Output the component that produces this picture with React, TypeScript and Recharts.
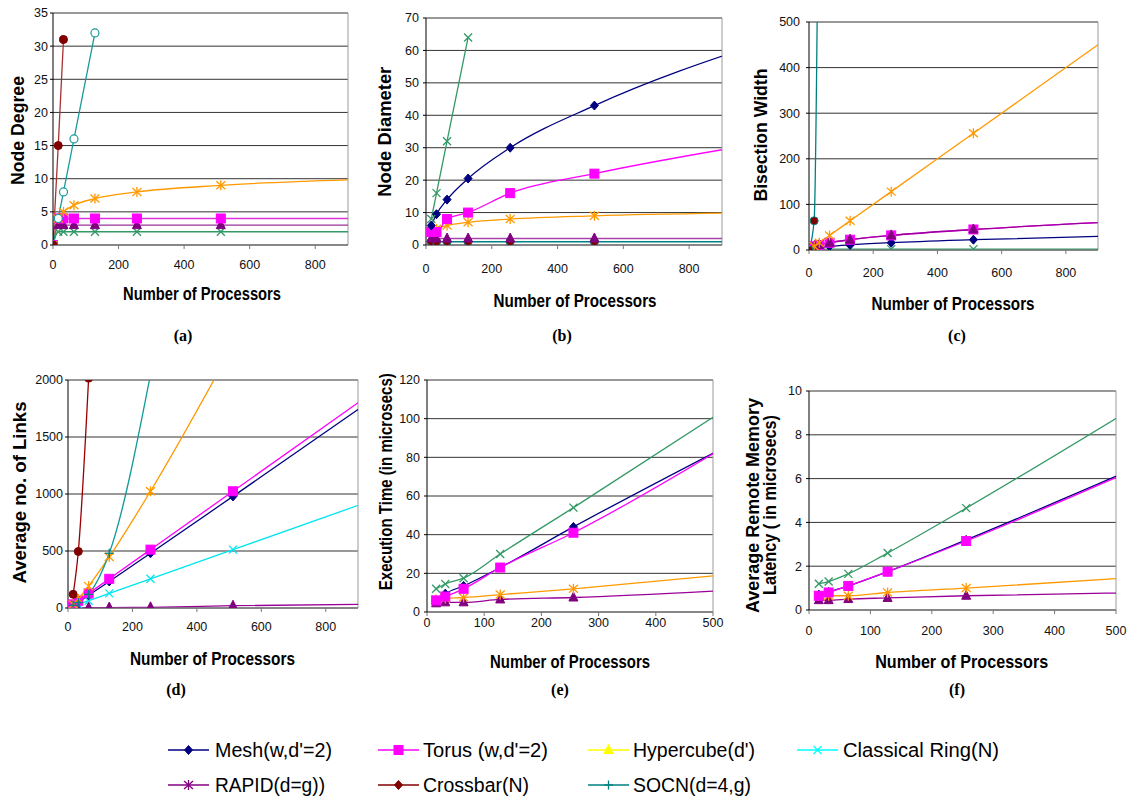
import React from "react";
import { LineChart, Line, XAxis, YAxis, CartesianGrid, ReferenceLine } from "recharts";

const FONT = "'Liberation Sans', Arial, sans-serif";

// processor counts
const procFrom0 = [0, 16, 32, 64, 128, 256, 512, 1024];
const proc = [16, 32, 64, 128, 256, 512, 1024];
const procSim = [16, 32, 64, 128, 256, 512];

// (a) node degree
const degCrossbarX = [0, 16, 32];
const degCrossbar = [0, 15, 31];
const degSocnX = [0, 16, 32, 64, 128];
const degSocn = [0, 4, 8, 16, 32];
const degHypercube = [0, 4, 5, 6, 7, 8, 9, 10];
const degTorus = [0, 4, 4, 4, 4, 4, 4, 4];
const degRapid = [0, 3, 3, 3, 3, 3, 3, 3];
const degRing = [0, 2, 2, 2, 2, 2, 2, 2];

// (b) node diameter
const diaRingX = [16, 32, 64, 128];
const diaRing = [8, 16, 32, 64];
const diaMesh = [6, 9.5, 14, 20.5, 30, 43, 62.5];
const diaTorus = [4, 4, 8, 10, 16, 22, 31.5];
const diaHypercube = [4, 5, 6, 7, 8, 9, 10];
const diaRapid = [2, 2, 2, 2, 2, 2, 2];
const diaCrossbar = [1, 1, 1, 1, 1, 1, 1];

// (c) bisection width
const bisCrossbarX = [0, 16, 32];
const bisCrossbar = [0, 64, 1024];
const bisHypercube = [0, 8, 16, 32, 64, 128, 256, 512];
const bisTorus = [0, 8, 11, 16, 22.6, 32, 45, 64];
const bisMesh = [0, 4, 5.7, 8, 11.3, 16, 22.6, 32];
const bisRing = [0, 2, 2, 2, 2, 2, 2, 2];

// (d) average number of links
const linkCrossbarX = [16, 32, 64];
const linkCrossbar = [120, 496, 2016];
const linkSocnX = [16, 32, 64, 128, 256];
const linkSocn = [24, 48, 120, 480, 2048];
const linkHypercubeX = [16, 32, 64, 128, 256, 512];
const linkHypercube = [32, 80, 192, 448, 1024, 2304];
const linkTorus = [32, 64, 128, 256, 512, 1024, 2048];
const linkMesh = [24, 53, 112, 233, 480, 979, 1984];
const linkRing = [16, 32, 64, 128, 256, 512, 1024];
const linkRapid = [2, 2, 4, 4, 6, 20, 36];

// (e) execution time (microsecs)
const timeSocn = [12, 14.5, 17.5, 30, 54, 103];
const timeMesh = [6, 9.5, 13.5, 23, 44, 84];
const timeTorus = [6, 8, 12, 23, 41, 84];
const timeHypercube = [6.5, 7, 7.5, 9, 12, 19];
const timeRapid = [4.5, 5, 5, 6.5, 7.5, 11];

// (f) average remote memory latency (microsecs)
const latSocn = [1.2, 1.3, 1.65, 2.6, 4.65, 8.95];
const latMesh = [0.7, 0.82, 1.1, 1.75, 3.2, 6.25];
const latTorus = [0.65, 0.8, 1.1, 1.75, 3.15, 6.2];
const latHypercube = [0.65, 0.65, 0.65, 0.8, 1.0, 1.45];
const latRapid = [0.45, 0.45, 0.5, 0.55, 0.65, 0.78];

const ticks900 = [0, 200, 400, 600, 800];
const ticks500 = [0, 100, 200, 300, 400, 500];

const NAVY = "#000080";
const MAGENTA = "#FF00FF";
const ORANGE = "#FF9900";
const PURPLE = "#800080";
const DARKRED = "#800000";
const TEAL = "#008080";
const GREEN = "#339966";
const CYAN = "#00E5F0";

type Shape = "diamond" | "square" | "triangle" | "star" | "cross" | "circle" | "ring" | "plus" | "none";

function Marker({ cx, cy, shape, fill, stroke }: any) {
  if (cx == null || cy == null || isNaN(cx) || isNaN(cy)) return null;
  const st = stroke || fill;
  switch (shape) {
    case "diamond":
      return <polygon points={`${cx},${cy - 4.5} ${cx + 4},${cy} ${cx},${cy + 4.5} ${cx - 4},${cy}`} fill={fill} stroke={st} />;
    case "square":
      return <rect x={cx - 4.5} y={cy - 4.5} width={9} height={9} fill={fill} stroke={st} />;
    case "triangle":
      return <polygon points={`${cx},${cy - 5.5} ${cx + 4.5},${cy + 3.5} ${cx - 4.5},${cy + 3.5}`} fill={fill} stroke={st} />;
    case "star":
      return (
        <g stroke={st} strokeWidth={1.3}>
          <line x1={cx} y1={cy - 5} x2={cx} y2={cy + 5} />
          <line x1={cx - 4.5} y1={cy - 4} x2={cx + 4.5} y2={cy + 4} />
          <line x1={cx - 4.5} y1={cy + 4} x2={cx + 4.5} y2={cy - 4} />
        </g>
      );
    case "cross":
      return (
        <g stroke={st} strokeWidth={1.3}>
          <line x1={cx - 4} y1={cy - 4} x2={cx + 4} y2={cy + 4} />
          <line x1={cx - 4} y1={cy + 4} x2={cx + 4} y2={cy - 4} />
        </g>
      );
    case "plus":
      return (
        <g stroke={st} strokeWidth={1.3}>
          <line x1={cx - 4.5} y1={cy} x2={cx + 4.5} y2={cy} />
          <line x1={cx} y1={cy - 4.5} x2={cx} y2={cy + 4.5} />
        </g>
      );
    case "circle":
      return <circle cx={cx} cy={cy} r={4} fill={fill} stroke={st} />;
    case "ring":
      return <circle cx={cx} cy={cy} r={4} fill="#fff" stroke={st} strokeWidth={1.2} />;
    default:
      return null;
  }
}

interface Series {
  x: number[];
  y: number[];
  stroke: string;
  shape: Shape;
  fill: string;
  mstroke?: string;
}

const s = (x: number[], y: number[], stroke: string, shape: Shape, fill: string, mstroke?: string): Series => ({
  x, y, stroke, shape, fill, mstroke,
});

interface PanelDef {
  left: number; top: number; right: number; bottom: number;
  xMax: number; yMax: number; xTicks: number[]; yTicks: number[];
  xGap: number; yGap: number;
  series: Series[];
}

const panels: PanelDef[] = [
  {
    left: 53, top: 13, right: 348, bottom: 245, xMax: 900, yMax: 35,
    xTicks: ticks900, yTicks: [0, 5, 10, 15, 20, 25, 30, 35], xGap: 15, yGap: 5,
    series: [
      s(procFrom0, degRing, GREEN, "cross", GREEN),
      s(procFrom0, degRapid, "#993399", "triangle", PURPLE),
      s(procFrom0, degTorus, "#DD33DD", "square", MAGENTA),
      s(procFrom0, degHypercube, ORANGE, "star", ORANGE),
      s(degSocnX, degSocn, "#1A9A9A", "ring", "#fff", "#1A9A9A"),
      s(degCrossbarX, degCrossbar, "#A83232", "circle", DARKRED),
    ],
  },
  {
    left: 426, top: 18, right: 722, bottom: 245, xMax: 900, yMax: 70,
    xTicks: ticks900, yTicks: [0, 10, 20, 30, 40, 50, 60, 70], xGap: 19, yGap: 7,
    series: [
      s(proc, diaCrossbar, TEAL, "circle", DARKRED, TEAL),
      s(proc, diaRapid, "#AA44AA", "triangle", PURPLE),
      s(proc, diaHypercube, ORANGE, "star", ORANGE),
      s(proc, diaTorus, MAGENTA, "square", MAGENTA),
      s(proc, diaMesh, NAVY, "diamond", NAVY),
      s(diaRingX, diaRing, GREEN, "cross", GREEN),
    ],
  },
  {
    left: 809, top: 22, right: 1098, bottom: 250, xMax: 900, yMax: 500,
    xTicks: ticks900, yTicks: [0, 100, 200, 300, 400, 500], xGap: 18, yGap: 9,
    series: [
      s(procFrom0, bisRing, GREEN, "cross", GREEN),
      s(procFrom0, bisMesh, NAVY, "diamond", NAVY),
      s(procFrom0, bisTorus, MAGENTA, "square", MAGENTA),
      s(procFrom0, bisTorus, "#990099", "triangle", PURPLE),
      s(procFrom0, bisHypercube, ORANGE, "star", ORANGE),
      s(bisCrossbarX, bisCrossbar, TEAL, "circle", DARKRED, TEAL),
    ],
  },
  {
    left: 68, top: 380, right: 358, bottom: 608, xMax: 900, yMax: 2000,
    xTicks: ticks900, yTicks: [0, 500, 1000, 1500, 2000], xGap: 14, yGap: 5,
    series: [
      s(proc, linkRapid, "#990099", "triangle", PURPLE),
      s(proc, linkRing, CYAN, "cross", CYAN),
      s(proc, linkMesh, NAVY, "diamond", NAVY),
      s(proc, linkTorus, MAGENTA, "square", MAGENTA),
      s(linkHypercubeX, linkHypercube, ORANGE, "star", ORANGE),
      s(linkSocnX, linkSocn, "#119999", "plus", TEAL),
      s(linkCrossbarX, linkCrossbar, "#990000", "circle", DARKRED),
    ],
  },
  {
    left: 427, top: 380, right: 713, bottom: 612, xMax: 500, yMax: 120,
    xTicks: ticks500, yTicks: [0, 20, 40, 60, 80, 100, 120], xGap: 6, yGap: 7,
    series: [
      s(procSim, timeRapid, "#990099", "triangle", PURPLE),
      s(procSim, timeHypercube, ORANGE, "star", ORANGE),
      s(procSim, timeMesh, NAVY, "diamond", NAVY),
      s(procSim, timeTorus, MAGENTA, "square", MAGENTA),
      s(procSim, timeSocn, GREEN, "cross", GREEN),
    ],
  },
  {
    left: 809, top: 391, right: 1116, bottom: 610, xMax: 500, yMax: 10,
    xTicks: ticks500, yTicks: [0, 2, 4, 6, 8, 10], xGap: 16, yGap: 7,
    series: [
      s(procSim, latRapid, "#990099", "triangle", PURPLE),
      s(procSim, latHypercube, ORANGE, "star", ORANGE),
      s(procSim, latMesh, NAVY, "diamond", NAVY),
      s(procSim, latTorus, MAGENTA, "square", MAGENTA),
      s(procSim, latSocn, GREEN, "cross", GREEN),
    ],
  },
];

function Panel({ p }: { p: PanelDef }) {
  const yw = 50;
  const padT = 12;
  const padR = 12;
  const xh = 34;
  const w = p.right - p.left;
  const h = p.bottom - p.top;
  const tick = { fontSize: 12.5, fill: "#111", fontFamily: FONT };
  return (
    <div style={{ position: "absolute", left: p.left - yw, top: p.top - padT }}>
      <LineChart width={w + yw + padR} height={h + padT + xh} margin={{ top: padT, right: padR, bottom: 0, left: 0 }}>
        <CartesianGrid vertical={false} stroke="#333" />
        <XAxis
          type="number"
          dataKey="x"
          domain={[0, p.xMax]}
          ticks={p.xTicks}
          allowDataOverflow
          height={xh}
          tickSize={4}
          tickMargin={p.xGap - 4}
          stroke="#777"
          tick={tick}
        />
        <YAxis
          type="number"
          domain={[0, p.yMax]}
          ticks={p.yTicks}
          allowDataOverflow
          width={yw}
          tickSize={3}
          tickMargin={p.yGap - 3}
          stroke="#000"
          tick={tick}
        />
        <ReferenceLine x={p.xMax} stroke="#9a9a9a" />
        {p.series.map((sr, i) => (
          <Line
            key={i}
            data={sr.x.map((x, j) => ({ x, y: sr.y[j] }))}
            dataKey="y"
            type="monotone"
            stroke={sr.stroke}
            strokeWidth={1.3}
            dot={(d: any) => (
              <Marker key={`m${i}-${d.index}`} cx={d.cx} cy={d.cy} shape={sr.shape} fill={sr.fill} stroke={sr.mstroke} />
            )}
            activeDot={false}
            isAnimationActive={false}
          />
        ))}
      </LineChart>
    </div>
  );
}

const yTitles = [
  { text: "Node Degree", x: 23.5, y: 130.5, len: 109 },
  { text: "Node Diameter", x: 390.5, y: 131.7, len: 130 },
  { text: "Bisection Width", x: 767, y: 135, len: 133 },
  { text: "Average no. of Links", x: 25.5, y: 492.5, len: 182 },
  { text: "Execution Time (in microsecs)", x: 391.5, y: 481.7, len: 217 },
  { text: "Average Remote Memory", x: 759, y: 505.5, len: 215 },
  { text: "Latency ( in microsecs)", x: 776, y: 505, len: 180 },
];

const xTitles = [
  { x: 202, y: 300, len: 158 },
  { x: 575, y: 307, len: 163 },
  { x: 953, y: 310, len: 163 },
  { x: 212.5, y: 665, len: 165 },
  { x: 570, y: 668, len: 160 },
  { x: 961.7, y: 668, len: 173 },
];

const captions = [
  { text: "(a)", x: 183, y: 341 },
  { text: "(b)", x: 562, y: 341 },
  { text: "(c)", x: 957, y: 341 },
  { text: "(d)", x: 176, y: 695 },
  { text: "(e)", x: 560, y: 695 },
  { text: "(f)", x: 957, y: 695 },
];

const legendItems = [
  { name: "Mesh(w,d'=2)", color: NAVY, shape: "diamond" as Shape, ix: 168, tx: 215, row: 0, len: 117 },
  { name: "Torus (w,d'=2)", color: MAGENTA, shape: "square" as Shape, ix: 378, tx: 423, row: 0, len: 125 },
  { name: "Hypercube(d')", color: "#FFFF00", shape: "triangle" as Shape, ix: 588, tx: 633, row: 0, len: 122 },
  { name: "Classical Ring(N)", color: "#00FFFF", shape: "cross" as Shape, ix: 797, tx: 843, row: 0, len: 156 },
  { name: "RAPID(d=g))", color: PURPLE, shape: "star" as Shape, ix: 168, tx: 215, row: 1, len: 110 },
  { name: "Crossbar(N)", color: DARKRED, shape: "diamond" as Shape, ix: 378, tx: 423, row: 1, len: 106 },
  { name: "SOCN(d=4,g)", color: TEAL, shape: "plus" as Shape, ix: 588, tx: 633, row: 1, len: 118 },
];

export default function App() {
  return (
    <div style={{ position: "absolute", left: 0, top: 0, width: 1127, height: 796, background: "#fff", fontFamily: FONT }}>
      {panels.map((p, i) => (
        <Panel key={i} p={p} />
      ))}
      <svg width={1127} height={796} style={{ position: "absolute", left: 0, top: 0, pointerEvents: "none" }}>
        {yTitles.map((t, i) => (
          <text
            key={`y${i}`}
            transform={`translate(${t.x},${t.y}) rotate(-90)`}
            textAnchor="middle"
            fontSize={18}
            fontWeight="bold"
            fontFamily={FONT}
            textLength={t.len}
            lengthAdjust="spacingAndGlyphs"
          >
            {t.text}
          </text>
        ))}
        {xTitles.map((t, i) => (
          <text
            key={`x${i}`}
            x={t.x}
            y={t.y}
            textAnchor="middle"
            fontSize={18}
            fontWeight="bold"
            fontFamily={FONT}
            textLength={t.len}
            lengthAdjust="spacingAndGlyphs"
          >
            Number of Processors
          </text>
        ))}
        {captions.map((c, i) => (
          <text
            key={`c${i}`}
            x={c.x}
            y={c.y}
            textAnchor="middle"
            fontSize={16}
            fontWeight="bold"
            fontFamily="'Liberation Serif', 'Times New Roman', serif"
          >
            {c.text}
          </text>
        ))}
        {legendItems.map((l, i) => {
          const cy = l.row === 0 ? 750 : 785;
          return (
            <g key={`l${i}`}>
              <line x1={l.ix} y1={cy} x2={l.ix + 41} y2={cy} stroke={l.color} strokeWidth={1.5} />
              <Marker cx={l.ix + 20.5} cy={cy} shape={l.shape} fill={l.color} />
              <text
                x={l.tx}
                y={cy + 7}
                fontSize={20}
                fontFamily={FONT}
                textLength={l.len}
                lengthAdjust="spacingAndGlyphs"
              >
                {l.name}
              </text>
            </g>
          );
        })}
      </svg>
    </div>
  );
}
